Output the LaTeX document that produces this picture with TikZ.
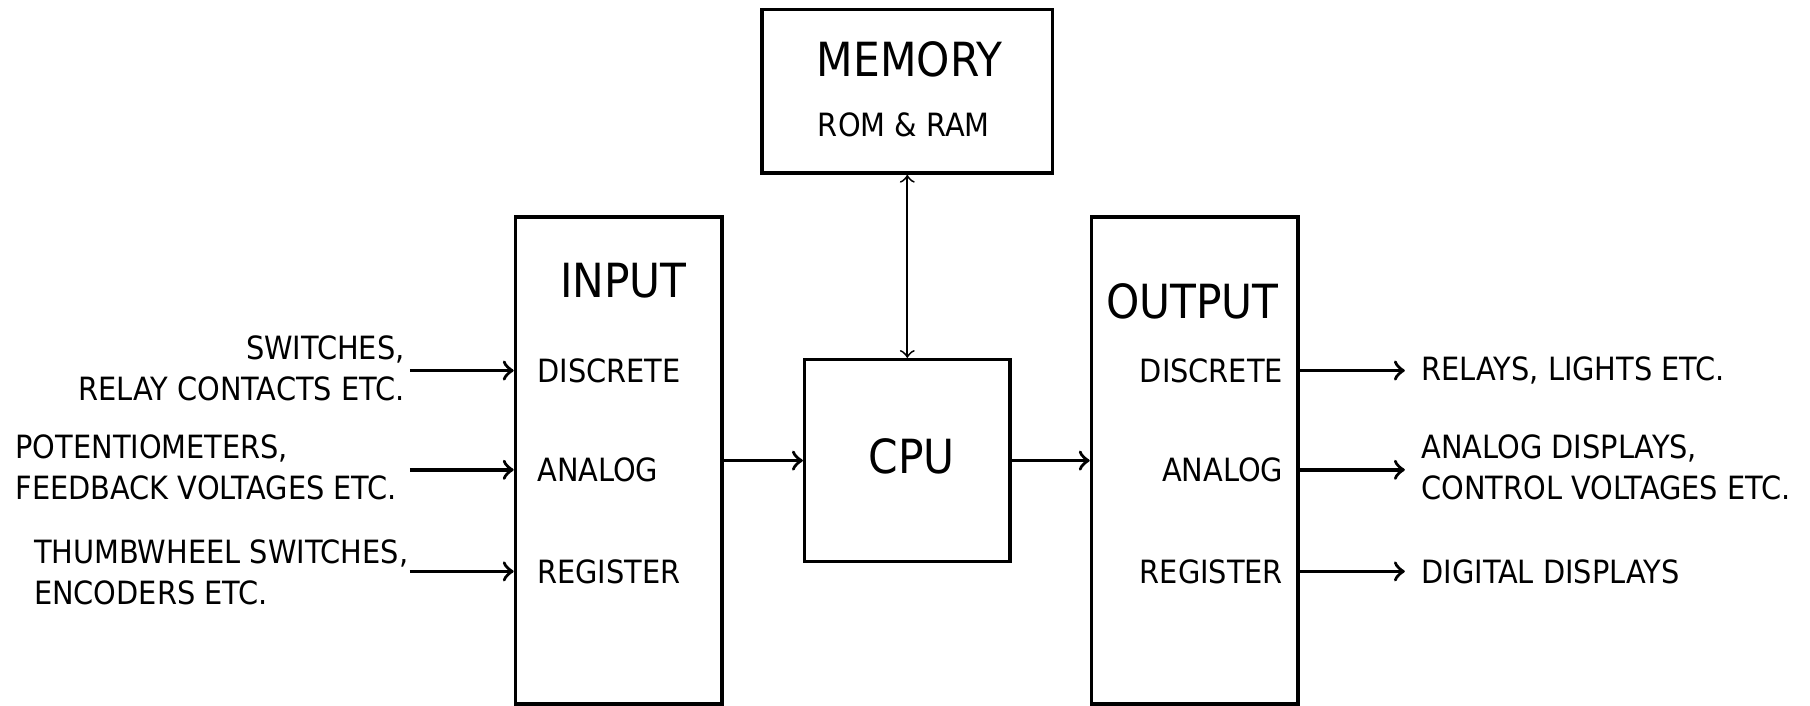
\documentclass[tikz,border=0pt]{standalone}
\usepackage{fontspec}
\setsansfont{DejaVu Sans Condensed}
\usetikzlibrary{arrows,positioning}
\tikzset{
    basic/.style  = {draw, rectangle, line width=0.85pt, inner sep=0pt},
    block/.style  = {basic, minimum width=17.8mm, minimum height=17.5mm},
    unit/.style   = {basic, minimum width=17.9mm, minimum height=42.2mm},
    big/.style    = {inner sep=0pt, font=\sffamily\fontsize{11.6}{14}\selectfont},
    small/.style  = {inner sep=0pt, font=\sffamily\fontsize{7.9}{10}\selectfont}
}
\begin{document}
\begin{tikzpicture}[x=0.1mm, y=-0.1mm, >=to, line width=0.85pt]
    \useasboundingbox (0,0) rectangle (1568,611);
    % blocks
    \node[unit] (in) at (536,399) {};
    \node[unit] (out) at (1035,399) {};
    \node[basic, minimum width=25.2mm, minimum height=14.2mm] (mem) at (786,79) {};
    \node[block] (cpu) at (786,399) {};
    % titles
    \node[big] (mem title) at (788,51) {MEMORY};
    \node[small] (mem sub) at (783,108) {ROM \& RAM};
    \node[big] (in title) at (540,243) {INPUT};
    \node[big] (out title) at (1033,261) {OUTPUT};
    \node[big] (cpu title) at (790,395) {CPU};
    % ports
    \foreach \name/\txt/\y in {dis/DISCRETE/321, ana/ANALOG/407, reg/REGISTER/495} {
        \node[small, anchor=west] (in \name) at (464,\y) {\txt};
        \node[small, anchor=east] (out \name) at (1113,\y) {\txt};
        \coordinate (src \name) at (355,\y);
        \coordinate (dst \name) at (1217,\y);
        \draw[->] (src \name) -- (src \name -| in.west);
        \draw[->] (dst \name -| out.east) -- (dst \name);
    }
    % field devices
    \node[small, align=right, anchor=east] (switches) at (352,319) {SWITCHES,\\RELAY CONTACTS ETC.};
    \node[small, align=left, anchor=west] (pots) at (12,405) {POTENTIOMETERS,\\FEEDBACK VOLTAGES ETC.};
    \node[small, align=left, anchor=west] (thumb) at (28,496) {THUMBWHEEL SWITCHES,\\ENCODERS ETC.};
    \node[small, anchor=west] (relays) at (1230,321) {RELAYS, LIGHTS ETC.};
    \node[small, align=left, anchor=west] (meters) at (1230,405) {ANALOG DISPLAYS,\\CONTROL VOLTAGES ETC.};
    \node[small, anchor=west] (digits) at (1230,495) {DIGITAL DISPLAYS};
    % data flow
    \draw[->] (in.east |- cpu.west) -- (cpu.west);
    \draw[->] (cpu.east) -- (out.west |- cpu.east);
    \draw[<->, line width=0.45pt] (mem.south) -- (cpu.north);
\end{tikzpicture}
\end{document}
